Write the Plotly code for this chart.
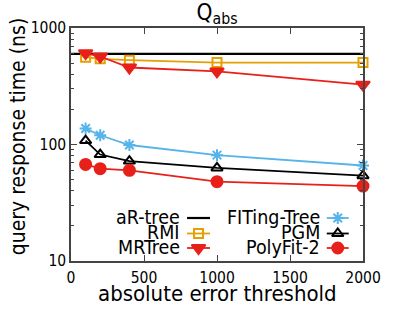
import plotly.graph_objects as go

x_vals = [100, 200, 400, 1000, 2000]
ar_tree = [600, 600, 600, 600, 600]
rmi = [562, 544, 529, 505, 505]
mrtree = [608, 569, 458, 424, 326]
fiting = [137, 120, 99, 81, 66]
pgm = [108, 82, 72, 63, 54]
polyfit = [67.5, 62, 60, 48, 44]

x_ticks = [0, 500, 1000, 1500, 2000]
y_ticks = [10, 100, 1000]

FONT = "DejaVu Sans Condensed, DejaVu Sans, sans-serif"
ORANGE = "#E69F00"
RED = "#E8201A"
BLUE = "#56B4E9"
BLACK = "#000000"

series = [
    dict(name="aR-tree", x=[0, 2000], y=[ar_tree[0], ar_tree[-1]], color=BLACK, symbol=None, size=0, width=2.2),
    dict(name="RMI", x=x_vals, y=rmi, color=ORANGE, symbol="square-open", size=9, width=1.8),
    dict(name="MRTree", x=x_vals, y=mrtree, color=RED, symbol="triangle-down", size=12, width=1.8),
    dict(name="FITing-Tree", x=x_vals, y=fiting, color=BLUE, symbol="asterisk-open", size=10, width=1.8),
    dict(name="PGM", x=x_vals, y=pgm, color=BLACK, symbol="triangle-up-open", size=10, width=1.8),
    dict(name="PolyFit-2", x=x_vals, y=polyfit, color=RED, symbol="circle", size=11, width=1.8),
]

fig = go.Figure()
for s in series:
    mode = "lines" if s["symbol"] is None else "lines+markers"
    marker = dict(symbol=s["symbol"], size=s["size"], color=s["color"],
                  line=dict(color=s["color"], width=2)) if s["symbol"] else None
    fig.add_trace(go.Scatter(x=s["x"], y=s["y"], mode=mode, name=s["name"],
                             line=dict(color=s["color"], width=s["width"]),
                             marker=marker, showlegend=False, cliponaxis=False))

# custom legend on overlay axes (pixel-like coordinates)
L, R, T, B = 70.7, 363.3, 28, 261
cols = [(181, 187, 210), (321, 327, 349)]
rows = [218, 233.5, 248]
for i, s in enumerate(series):
    c = cols[i // 3]
    ry = rows[i % 3]
    fig.add_trace(go.Scatter(x=[c[1], c[2]], y=[ry, ry], xaxis="x2", yaxis="y2",
                             mode="lines", line=dict(color=s["color"], width=s["width"]),
                             showlegend=False, hoverinfo="skip"))
    if s["symbol"]:
        fig.add_trace(go.Scatter(x=[(c[1] + c[2]) / 2], y=[ry], xaxis="x2", yaxis="y2",
                                 mode="markers",
                                 marker=dict(symbol=s["symbol"], size=s["size"], color=s["color"],
                                             line=dict(color=s["color"], width=2)),
                                 showlegend=False, hoverinfo="skip"))
    fig.add_annotation(x=c[0], y=ry - 1, xref="x2", yref="y2", text=s["name"], showarrow=False,
                       xanchor="right", yanchor="middle", borderpad=0,
                       font=dict(family=FONT, size=19.5, color="black"))

# axis titles as annotations for exact placement
fig.add_annotation(x=0.5, y=0, xref="paper", yref="paper", yanchor="middle", xanchor="center",
                   yshift=-32.5, borderpad=0, text="absolute error threshold", showarrow=False,
                   font=dict(family=FONT, size=22, color="black"))
fig.add_annotation(x=0, y=(B - 136) / (B - T), xref="paper", yref="paper", yanchor="middle",
                   xanchor="center", xshift=18 - L, textangle=-90, borderpad=0,
                   text="query response time (ns)", showarrow=False,
                   font=dict(family=FONT, size=21, color="black"))

axis_line = "#444444"
fig.update_layout(
    width=415, height=312,
    margin=dict(l=L, r=415 - R, t=T, b=312 - B),
    paper_bgcolor="white", plot_bgcolor="white",
    font=dict(family=FONT, color="black"),
    title=dict(text="Q<sub>abs</sub>", x=0.523, xanchor="center", y=0.962, yanchor="middle",
               font=dict(family=FONT, size=22.5, color="black")),
    xaxis=dict(range=[0, 2000], tickvals=x_ticks, ticktext=[str(v) for v in x_ticks],
               ticks="inside", ticklen=6, tickcolor=axis_line, showgrid=False, zeroline=False,
               showline=True, linecolor=axis_line, linewidth=1.5, mirror="ticks",
               automargin=False, ticklabelstandoff=2,
               tickfont=dict(family=FONT, size=15.5, color="black")),
    yaxis=dict(type="log", range=[1, 3], tickvals=y_ticks, ticktext=[str(v) for v in y_ticks],
               ticks="inside", ticklen=6, tickcolor=axis_line, showgrid=False, zeroline=False,
               showline=True, linecolor=axis_line, linewidth=1.5, mirror="ticks",
               automargin=False,
               minor=dict(ticks="inside", ticklen=3, tickcolor=axis_line,
                          tickvals=[2, 3, 4, 5, 6, 7, 8, 9, 20, 30, 40, 50, 60, 70, 80, 90, 200, 300, 400, 500, 600, 700, 800, 900]),
               tickfont=dict(family=FONT, size=15.5, color="black")),
    xaxis2=dict(domain=[0, 1], range=[L, R], overlaying="x", visible=False, fixedrange=True),
    yaxis2=dict(domain=[0, 1], range=[B, T], overlaying="y", visible=False, fixedrange=True),
)

fig.write_html("out.html", config={"displayModeBar": False},
               post_script="document.body.style.margin='0';document.body.style.overflow='hidden';")
